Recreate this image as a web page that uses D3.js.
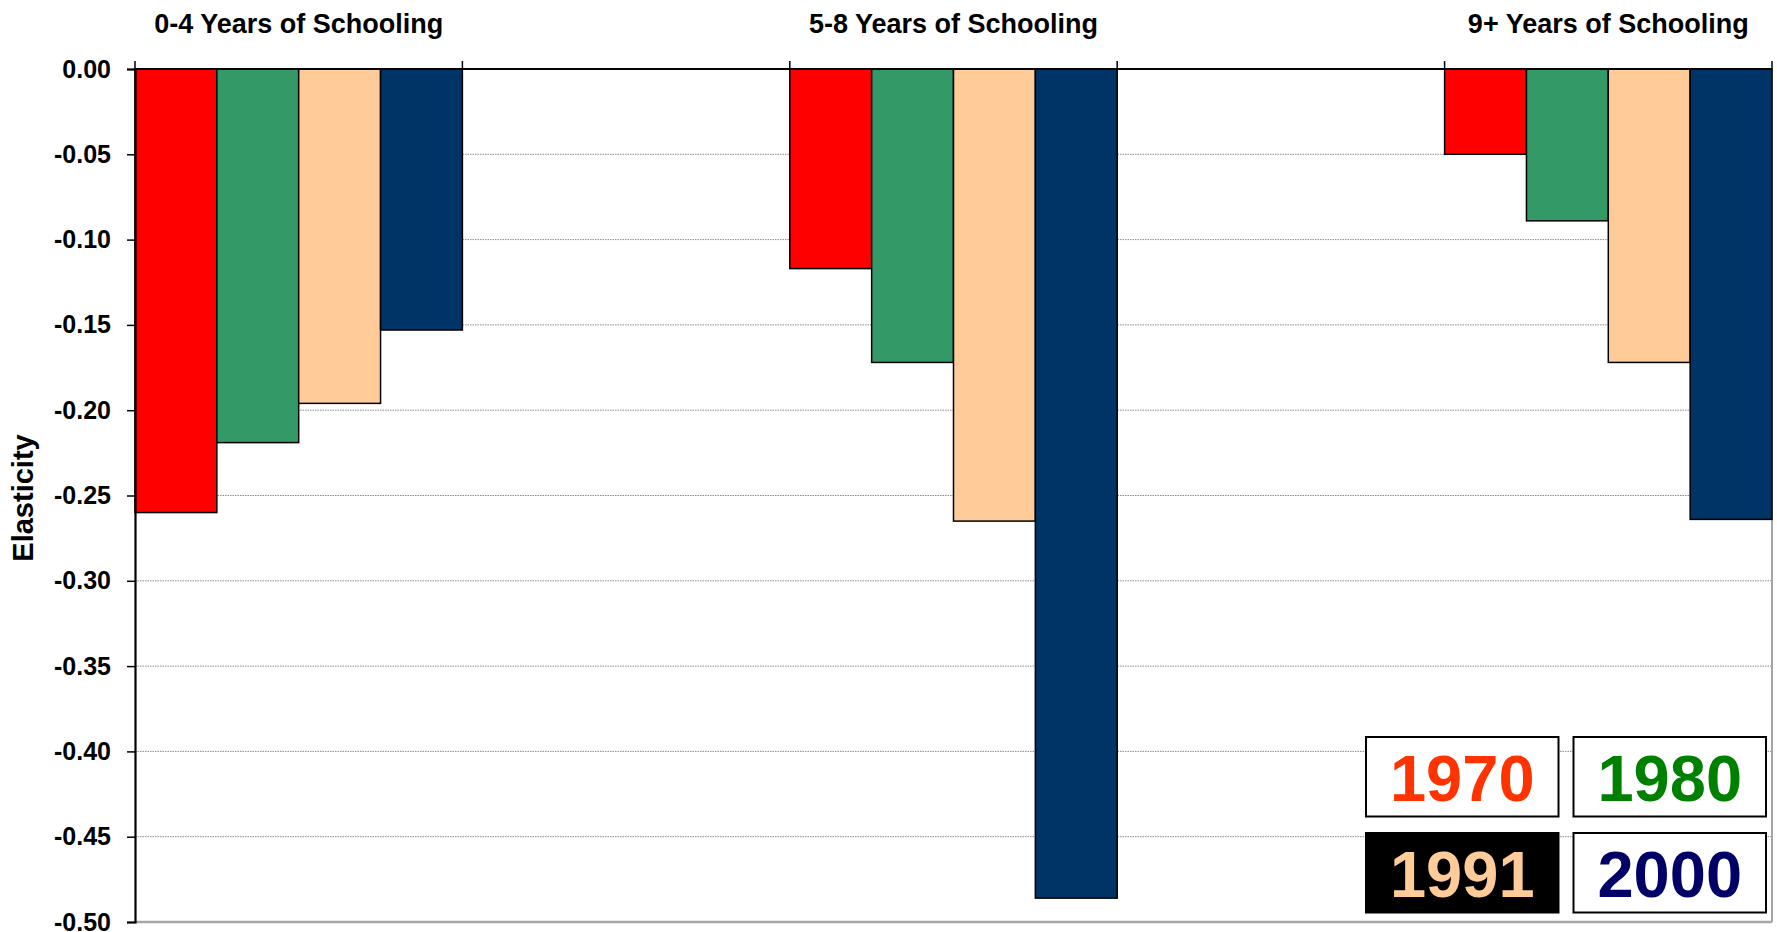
<!DOCTYPE html>
<html>
<head>
<meta charset="utf-8">
<script src="https://cdn.jsdelivr.net/npm/d3@7"></script>
<style>
  html, body { margin: 0; padding: 0; background: #ffffff; }
  svg { display: block; font-family: "Liberation Sans", Arial, sans-serif; }
</style>
</head>
<body>
<svg id="chart" width="1777" height="932"></svg>
<script>
// Schooling groups and survey years
const categories = ["0-4 Years of Schooling", "5-8 Years of Schooling", "9+ Years of Schooling"];
const years = ["1970", "1980", "1991", "2000"];

// Elasticity per group, one array per year
const values1970 = [-0.260, -0.117, -0.050];
const values1980 = [-0.219, -0.172, -0.089];
const values1991 = [-0.196, -0.265, -0.172];
const values2000 = [-0.153, -0.486, -0.264];

// Y axis ticks and their labels
const yTickValues = [0, -0.05, -0.10, -0.15, -0.20, -0.25, -0.30, -0.35, -0.40, -0.45, -0.50];
const yTickLabels = ["0.00", "-0.05", "-0.10", "-0.15", "-0.20", "-0.25", "-0.30", "-0.35", "-0.40", "-0.45", "-0.50"];

const barColors = ["#ff0000", "#339966", "#ffcc99", "#003366"];
const legendText = ["#ff3300", "#008000", "#ffcc99", "#000066"];
const legendFill = ["#ffffff", "#ffffff", "#000000", "#ffffff"];

const seriesValues = [values1970, values1980, values1991, values2000];
const rows = categories.map((c, i) => ({
  category: c,
  bars: years.map((yr, j) => ({ year: yr, value: seriesValues[j][i], idx: j }))
}));

const svg = d3.select("#chart");
const plotLeft = 135, plotRight = 1772, plotTop = 69, plotBottom = 922;

const y = d3.scaleLinear().domain([0, -0.5]).range([plotTop, plotBottom]);
const x0 = d3.scaleBand().domain(categories).range([plotLeft, plotRight]).paddingInner(0.5).paddingOuter(0);
const x1 = d3.scaleBand().domain(years).range([0, x0.bandwidth()]).padding(0);

// Dotted gridlines
svg.append("g")
  .selectAll("line")
  .data(yTickValues.filter(v => v < 0 && v > -0.5))
  .join("line")
  .attr("x1", plotLeft).attr("x2", plotRight)
  .attr("y1", d => y(d)).attr("y2", d => y(d))
  .attr("stroke", "#8c8c8c")
  .attr("stroke-width", 1)
  .attr("stroke-dasharray", "1.5,1");

// Plot-area border: right and bottom
svg.append("line").attr("x1", plotRight).attr("x2", plotRight).attr("y1", plotTop).attr("y2", plotBottom)
  .attr("stroke", "#a6a6a6").attr("stroke-width", 2);
svg.append("line").attr("x1", plotLeft).attr("x2", plotRight).attr("y1", y(-0.5)).attr("y2", y(-0.5))
  .attr("stroke", "#a6a6a6").attr("stroke-width", 2.5);

// Bars
const groups = svg.append("g")
  .selectAll("g")
  .data(rows)
  .join("g")
  .attr("transform", d => `translate(${x0(d.category)},0)`);

groups.selectAll("rect")
  .data(d => d.bars)
  .join("rect")
  .attr("x", d => x1(d.year))
  .attr("y", y(0))
  .attr("width", x1.bandwidth())
  .attr("height", d => y(d.value) - y(0))
  .attr("fill", d => barColors[d.idx])
  .attr("stroke", "#000000")
  .attr("stroke-width", 1.5);

// Group titles
svg.append("g")
  .selectAll("text")
  .data(categories)
  .join("text")
  .attr("x", d => x0(d) + x0.bandwidth() / 2)
  .attr("y", 33)
  .attr("text-anchor", "middle")
  .attr("font-size", 27)
  .attr("font-weight", "bold")
  .attr("fill", "#000")
  .text(d => d);

// Zero line with group-edge ticks
svg.append("line").attr("x1", plotLeft).attr("x2", plotRight).attr("y1", y(0)).attr("y2", y(0))
  .attr("stroke", "#000").attr("stroke-width", 2.2);
const edgeTicks = [];
categories.forEach(c => { edgeTicks.push(x0(c)); edgeTicks.push(x0(c) + x0.bandwidth()); });
svg.append("g")
  .selectAll("line")
  .data(edgeTicks)
  .join("line")
  .attr("x1", d => d).attr("x2", d => d)
  .attr("y1", y(0) - 8).attr("y2", y(0))
  .attr("stroke", "#000").attr("stroke-width", 1.5);

// Y axis
const yAxis = d3.axisLeft(y)
  .tickValues(yTickValues)
  .tickFormat((d, i) => yTickLabels[i])
  .tickSize(8)
  .tickPadding(16);
const yg = svg.append("g").attr("transform", `translate(${plotLeft},0)`).call(yAxis);
yg.select(".domain").attr("stroke", "#000").attr("stroke-width", 2.2);
yg.selectAll(".tick line").attr("stroke", "#000").attr("stroke-width", 1.5);
yg.selectAll(".tick text")
  .attr("font-size", 25)
  .attr("font-weight", "bold")
  .attr("font-family", "'Liberation Sans', Arial, sans-serif")
  .attr("fill", "#000");

// Y axis title
svg.append("text")
  .attr("transform", "translate(33,498) rotate(-90)")
  .attr("text-anchor", "middle")
  .attr("font-size", 29)
  .attr("font-weight", "bold")
  .attr("fill", "#000")
  .text("Elasticity");

// Legend: 2x2 boxed year labels
const legendX = [1366, 1573.5];
const legendY = [737, 833];
const boxW = 192.5, boxH = 79.5;
const legend = svg.append("g")
  .selectAll("g")
  .data(years)
  .join("g")
  .attr("transform", (d, i) => `translate(${legendX[i % 2]},${legendY[Math.floor(i / 2)]})`);
legend.append("rect")
  .attr("width", boxW).attr("height", boxH)
  .attr("fill", (d, i) => legendFill[i])
  .attr("stroke", "#000").attr("stroke-width", 2);
legend.append("text")
  .attr("x", boxW / 2)
  .attr("y", boxH / 2 + 24)
  .attr("text-anchor", "middle")
  .attr("font-size", 65)
  .attr("font-weight", "bold")
  .attr("fill", (d, i) => legendText[i])
  .text(d => d);
</script>
</body>
</html>
